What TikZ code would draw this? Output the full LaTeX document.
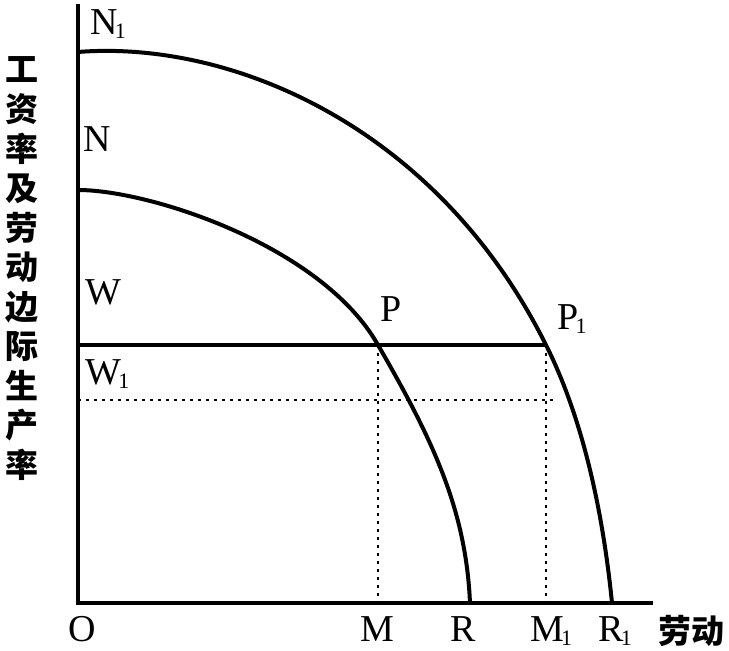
\documentclass[tikz,border=0pt]{standalone}
\usepackage{fontspec}
\setmainfont{Liberation Serif}
\newfontfamily\cjk{Noto Sans CJK SC}
\usetikzlibrary{positioning}

\newcommand{\lsub}[1]{\kern-1.5pt\raisebox{-0.2ex}{\fontsize{11}{11}\selectfont #1}}

\begin{document}
\begin{tikzpicture}[
    x=0.5pt, y=-0.5pt,
    axis/.style={line width=2pt},
    curve/.style={line width=2pt},
    guide/.style={line width=1pt, dash pattern=on 1.5pt off 2.5pt},
    lbl/.style={font=\fontsize{19}{19}\selectfont, inner sep=0pt, anchor=base west},
    hanzi/.style={font=\cjk\bfseries\fontsize{16.5}{16.5}\selectfont, inner sep=0pt}
]
\useasboundingbox (0,0) rectangle (729,651);
% axes
\coordinate (O) at (78,603);
\coordinate (ytop) at (78,4);
\coordinate (xend) at (653,603);
\draw[axis] (ytop) -- (O) -- (xend);
% curves
\coordinate (n1) at (78,52);
\coordinate (p1) at (546,345);
\coordinate (r1) at (612,603);
\coordinate (n) at (78,190);
\coordinate (p) at (378,345);
\coordinate (r) at (470,603);
\draw[curve] (n1) .. controls (230,40) and (436,125) .. (p1)
    .. controls (586,425) and (604,523) .. (r1);
\draw[curve] (n) .. controls (150,190) and (322,246) .. (p)
    .. controls (433,440) and (466,510) .. (r);
% wage lines
\coordinate (w) at (78,345);
\coordinate (w1) at (78,400);
\coordinate (w1end) at (558,400);
\coordinate (m) at (378,603);
\coordinate (m1) at (546,603);
\draw[axis] (w) -- (p1);
\draw[guide] (w1) -- (w1end);
\draw[guide] (p) -- (m);
\draw[guide] (p1) -- (m1);
% labels
\node[lbl] (labN1) at (90,35) {N\lsub{1}};
\node[lbl] (labN) at (83,152) {N};
\node[lbl] (labW) at (85,305) {W};
\node[lbl] (labW1) at (85,385) {W\lsub{1}};
\node[lbl] (labP) at (380,322) {P};
\node[lbl] (labP1) at (557,330) {P\lsub{1}};
\node[lbl] (labO) at (68,642) {O};
\node[lbl] (labM) at (360,642) {M};
\node[lbl] (labR) at (450,642) {R};
\node[lbl] (labM1) at (530,642) {M\lsub{1}};
\node[lbl] (labR1) at (598,642) {R\lsub{1}};
\node[hanzi] (labL) at (691,631) {劳动};
\foreach \c [count=\i from 0] in {工,资,率,及,劳,动,边,际,生,产,率}
    \node[hanzi] (ylab\i) at (22,70+39.5*\i) {\c};
\end{tikzpicture}
\end{document}
